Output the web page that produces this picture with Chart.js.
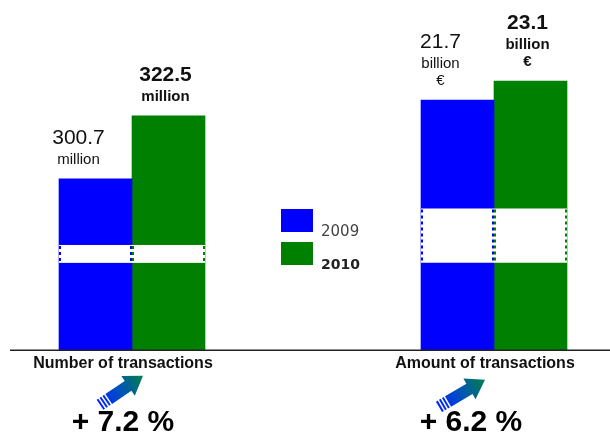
<!DOCTYPE html>
<html>
<head>
<meta charset="utf-8">
<script src="https://cdn.jsdelivr.net/npm/chart.js@4.4.0/dist/chart.umd.min.js"></script>
<style>
html, body { margin: 0; padding: 0; background: #fff; }
#wrap { width: 610px; height: 435px; }
</style>
</head>
<body>
<div id="wrap"><canvas id="graficoTransacoes"></canvas></div>
<script>
const categorias = ['Number of transactions', 'Amount of transactions']
const anos = ['2009', '2010']
const transacoesQtd = [300.7, 322.5]     // milhões
const transacoesValor = [21.7, 23.1]     // bilhões de €
const unidadeQtd = ['million']
const unidadeValor = ['billion', '€']
const variacao = ['+ 7.2 %', '+ 6.2 %']
const eixoQtd = [241.5, 355.7]           // min / max do eixo (quebrado)
const eixoValor = [3.28, 27.6]
const quebraQtd = [271.6, 277.8]         // faixa cortada do eixo
const quebraValor = [9.7, 13.7]
const cores = ['#0000ff', '#008000']

const fonte = '"Liberation Sans", Arial, sans-serif'

function montarDataset(ano, i, valores, cat, eixo, unidade) {
    let data = categorias.map(() => null)
    data[cat] = valores[i]
    return {
        label: ano,
        data: data,
        backgroundColor: cores[i],
        borderWidth: 0,
        yAxisID: eixo,
        base: eixo == 'yQtd' ? eixoQtd[0] : eixoValor[0],
        skipNull: true,
        clip: false,
        unidade: unidade,
        quebra: eixo == 'yQtd' ? quebraQtd : quebraValor
    }
}

let datasets = []
anos.forEach((ano, i) => datasets.push(montarDataset(ano, i, transacoesQtd, 0, 'yQtd', unidadeQtd)))
anos.forEach((ano, i) => datasets.push(montarDataset(ano, i, transacoesValor, 1, 'yValor', unidadeValor)))

// eixo quebrado: faixa branca com bordas pontilhadas
const quebraEixo = {
    id: 'quebraEixo',
    afterDatasetsDraw(chart) {
        const ctx = chart.ctx
        chart.data.datasets.forEach((ds, i) => {
            const meta = chart.getDatasetMeta(i)
            const escala = chart.scales[ds.yAxisID]
            meta.data.forEach((bar, j) => {
                if (ds.data[j] == null) return
                const yTopo = escala.getPixelForValue(ds.quebra[1])
                const yBase = escala.getPixelForValue(ds.quebra[0])
                const esq = bar.x - bar.width / 2
                const dir = bar.x + bar.width / 2
                ctx.save()
                ctx.fillStyle = '#ffffff'
                ctx.fillRect(esq, yTopo, bar.width, yBase - yTopo)
                ctx.strokeStyle = ds.backgroundColor
                ctx.lineWidth = 2
                ctx.setLineDash([3, 3])
                ctx.beginPath()
                ctx.moveTo(esq + 1, yTopo + 1)
                ctx.lineTo(esq + 1, yBase)
                ctx.moveTo(dir - 1, yTopo + 1)
                ctx.lineTo(dir - 1, yBase)
                ctx.stroke()
                ctx.restore()
            })
        })
    }
}

// rótulos de valor acima das barras
const rotulosValores = {
    id: 'rotulosValores',
    afterDatasetsDraw(chart) {
        const ctx = chart.ctx
        chart.data.datasets.forEach((ds, i) => {
            const meta = chart.getDatasetMeta(i)
            const negrito = ds.label == '2010'
            meta.data.forEach((bar, j) => {
                if (ds.data[j] == null) return
                const linhas = [ds.data[j].toFixed(1)].concat(ds.unidade)
                const x = bar.x + (negrito ? -3 : -17)
                let y = bar.y - 15
                ctx.save()
                ctx.fillStyle = '#111'
                ctx.textAlign = 'center'
                ctx.textBaseline = 'alphabetic'
                for (let k = linhas.length - 1; k >= 0; k--) {
                    if (k == 0) {
                        ctx.font = `${negrito ? 'bold ' : ''}21px ${fonte}`
                    } else {
                        ctx.font = `${negrito ? 'bold ' : ''}15px ${fonte}`
                    }
                    ctx.fillText(linhas[k], x, y)
                    y -= (k == 1) ? 20 : 17
                }
                ctx.restore()
            })
        })
    }
}

function desenharSeta(ctx, x0, y0, x1, y1) {
    const ang = Math.atan2(y1 - y0, x1 - x0)
    const comp = Math.hypot(x1 - x0, y1 - y0)
    ctx.save()
    ctx.translate(x0, y0)
    ctx.rotate(ang)
    const grad = ctx.createLinearGradient(0, 0, comp, 0)
    grad.addColorStop(0, '#0022ff')
    grad.addColorStop(0.45, '#0050c0')
    grad.addColorStop(1, '#00804a')
    ctx.fillStyle = grad
    const meia = 6, cabeca = 12, lenCab = 18
    ctx.fillRect(0, -meia, 2, meia * 2)
    ctx.fillRect(3.5, -meia, 2, meia * 2)
    ctx.fillRect(7, -meia, 2, meia * 2)
    ctx.beginPath()
    ctx.moveTo(10.5, -meia)
    ctx.lineTo(comp - lenCab, -meia)
    ctx.lineTo(comp - lenCab, -cabeca)
    ctx.lineTo(comp, 0)
    ctx.lineTo(comp - lenCab, cabeca)
    ctx.lineTo(comp - lenCab, meia)
    ctx.lineTo(10.5, meia)
    ctx.closePath()
    ctx.fill()
    ctx.restore()
}

// linha de base, legenda, setas e variação
const extras = {
    id: 'extras',
    afterDraw(chart) {
        const ctx = chart.ctx
        const area = chart.chartArea
        const xs = chart.scales.x

        ctx.save()
        ctx.strokeStyle = '#222'
        ctx.lineWidth = 1.5
        ctx.beginPath()
        ctx.moveTo(10, area.bottom + 0.5)
        ctx.lineTo(chart.width, area.bottom + 0.5)
        ctx.stroke()

        // legenda
        anos.forEach((ano, i) => {
            const y = 209 + i * 33
            ctx.fillStyle = cores[i]
            ctx.fillRect(281, y, 32, 23)
            ctx.fillStyle = i == 0 ? '#444' : '#222'
            ctx.font = `${i == 0 ? '' : 'bold '}${i == 0 ? 15 : 14}px "DejaVu Sans", sans-serif`
            ctx.textAlign = 'left'
            ctx.textBaseline = 'alphabetic'
            ctx.fillText(ano, 321, y + 27)
        })

        // setas e percentuais
        const setas = [[-32, 55, 11, 26], [-55, 57, -9, 30]]
        const deslocTexto = [-9, -23]
        categorias.forEach((c, i) => {
            const xc = xs.getPixelForValue(i)
            const s = setas[i]
            desenharSeta(ctx, xc + s[0], area.bottom + s[1], xc + s[2], area.bottom + s[3])
            ctx.fillStyle = '#000'
            ctx.font = `bold 30px ${fonte}`
            ctx.textAlign = 'center'
            ctx.textBaseline = 'alphabetic'
            ctx.fillText(variacao[i], xc + deslocTexto[i], area.bottom + 81)
        })
        ctx.restore()
    }
}

window.graficoTransacoes = new Chart(document.getElementById('graficoTransacoes'), {
    type: 'bar',
    data: {
        labels: categorias,
        datasets: datasets
    },
    options: {
        responsive: true,
        maintainAspectRatio: false,
        animation: false,
        barThickness: 73,
        layout: {
            padding: { left: 132, right: 116, top: 20, bottom: 58 }
        },
        plugins: {
            legend: { display: false },
            tooltip: { enabled: false }
        },
        scales: {
            x: {
                type: 'category',
                offset: false,
                grid: { display: false, drawTicks: false },
                border: { display: false },
                ticks: {
                    font: { family: fonte, size: 16, weight: 'bold' },
                    color: '#111',
                    padding: 4,
                    labelOffset: -9,
                    maxRotation: 0,
                    autoSkip: false
                }
            },
            yQtd: { display: false, min: eixoQtd[0], max: eixoQtd[1] },
            yValor: { display: false, min: eixoValor[0], max: eixoValor[1] }
        }
    },
    plugins: [quebraEixo, rotulosValores, extras]
})
</script>
</body>
</html>
